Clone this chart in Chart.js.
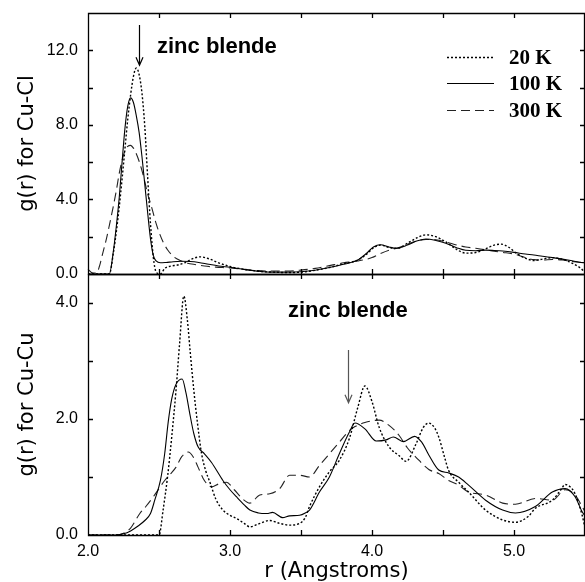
<!DOCTYPE html>
<html><head><meta charset="utf-8">
<script src="https://cdn.jsdelivr.net/npm/chart.js@4.4.0/dist/chart.umd.min.js"></script>
<style>html,body{margin:0;padding:0;background:#fff;overflow:hidden;}canvas{display:block;}</style>
</head><body>
<canvas id="c" width="585" height="586"></canvas>
<script>
// ---- data: [r (Angstrom), g(r)] ----
const cuCl20 = [[2.00,0],[2.15,0],[2.18,1.2],[2.20,2.3],[2.22,3.6],[2.24,5.1],[2.26,6.7],[2.28,8.3],[2.30,9.6],[2.32,10.6],[2.34,11.05],[2.36,10.7],[2.38,9.7],[2.40,7.9],[2.42,5.2],[2.44,2.7],[2.46,0.9],[2.48,0.1],[2.51,0.0],[2.54,0.3],[2.58,0.42],[2.63,0.48],[2.68,0.6],[2.73,0.8],[2.79,0.92],[2.85,0.82],[2.92,0.6],[3.00,0.4],[3.10,0.25],[3.20,0.15],[3.30,0.1],[3.40,0.08],[3.50,0.1],[3.60,0.2],[3.70,0.35],[3.80,0.55],[3.90,0.75],[3.96,1.05],[4.01,1.4],[4.06,1.55],[4.12,1.42],[4.18,1.38],[4.25,1.65],[4.32,1.95],[4.38,2.1],[4.45,2.0],[4.52,1.72],[4.60,1.3],[4.66,1.12],[4.73,1.15],[4.80,1.35],[4.86,1.55],[4.91,1.6],[4.96,1.45],[5.02,1.1],[5.08,0.85],[5.14,0.72],[5.20,0.8],[5.27,0.88],[5.34,0.8],[5.40,0.62],[5.46,0.36],[5.50,0.1]];
const cuCl100 = [[2.00,0],[2.15,0],[2.18,1.3],[2.20,2.6],[2.22,4.1],[2.24,6.0],[2.26,7.8],[2.28,9.0],[2.30,9.45],[2.32,9.2],[2.34,8.5],[2.36,7.6],[2.38,6.3],[2.40,4.8],[2.42,3.3],[2.44,1.9],[2.46,1.0],[2.48,0.7],[2.51,0.6],[2.55,0.62],[2.60,0.66],[2.66,0.68],[2.72,0.67],[2.78,0.62],[2.85,0.52],[2.92,0.43],[3.00,0.36],[3.10,0.25],[3.20,0.15],[3.30,0.1],[3.40,0.1],[3.50,0.12],[3.60,0.2],[3.70,0.35],[3.80,0.52],[3.90,0.75],[3.96,1.1],[4.01,1.45],[4.06,1.57],[4.12,1.45],[4.17,1.38],[4.25,1.55],[4.32,1.78],[4.38,1.88],[4.45,1.8],[4.52,1.65],[4.60,1.4],[4.66,1.27],[4.73,1.25],[4.80,1.28],[4.86,1.26],[4.92,1.23],[5.00,1.16],[5.08,1.07],[5.14,1.02],[5.20,0.95],[5.27,0.88],[5.34,0.8],[5.40,0.72],[5.46,0.63],[5.50,0.6]];
const cuCl300 = [[2.00,0.25],[2.03,0.06],[2.06,0.05],[2.08,0.4],[2.10,1.0],[2.13,1.9],[2.15,2.6],[2.18,3.7],[2.20,4.5],[2.22,5.4],[2.24,6.1],[2.26,6.6],[2.28,6.85],[2.30,6.9],[2.32,6.75],[2.34,6.45],[2.36,6.05],[2.38,5.55],[2.40,4.95],[2.42,4.3],[2.44,3.8],[2.46,3.25],[2.48,2.7],[2.50,2.25],[2.53,1.7],[2.56,1.3],[2.60,0.95],[2.65,0.72],[2.70,0.58],[2.76,0.5],[2.82,0.43],[2.90,0.37],[3.00,0.32],[3.10,0.24],[3.20,0.18],[3.30,0.16],[3.40,0.16],[3.50,0.21],[3.60,0.3],[3.70,0.45],[3.80,0.6],[3.90,0.7],[4.00,0.88],[4.06,1.1],[4.12,1.28],[4.18,1.4],[4.25,1.6],[4.32,1.78],[4.38,1.85],[4.45,1.84],[4.52,1.72],[4.60,1.55],[4.66,1.45],[4.73,1.38],[4.80,1.3],[4.86,1.22],[4.92,1.16],[5.00,1.07],[5.08,0.88],[5.14,0.77],[5.20,0.75],[5.27,0.78],[5.34,0.75],[5.40,0.68],[5.46,0.63],[5.50,0.62]];

const cuCu20 = [[2.00,0],[2.50,0],[2.53,0.45],[2.56,1.0],[2.59,1.7],[2.62,2.5],[2.645,3.3],[2.675,4.12],[2.70,3.7],[2.72,3.15],[2.745,2.5],[2.77,1.95],[2.80,1.4],[2.83,1.1],[2.86,0.9],[2.90,0.62],[2.95,0.43],[3.00,0.34],[3.05,0.28],[3.10,0.2],[3.14,0.14],[3.20,0.19],[3.28,0.25],[3.35,0.2],[3.42,0.17],[3.49,0.2],[3.53,0.3],[3.56,0.49],[3.63,0.83],[3.70,1.09],[3.77,1.29],[3.84,1.66],[3.90,2.2],[3.95,2.57],[4.00,2.3],[4.05,1.86],[4.12,1.52],[4.19,1.37],[4.24,1.27],[4.31,1.57],[4.36,1.85],[4.40,1.93],[4.44,1.85],[4.47,1.69],[4.51,1.35],[4.54,1.11],[4.61,0.91],[4.68,0.74],[4.80,0.43],[4.92,0.26],[5.01,0.22],[5.10,0.32],[5.15,0.46],[5.27,0.6],[5.33,0.78],[5.36,0.87],[5.40,0.82],[5.43,0.71],[5.48,0.34],[5.50,0.12]];
const cuCu100 = [[2.00,0],[2.20,0],[2.25,0.02],[2.30,0.07],[2.35,0.15],[2.40,0.25],[2.44,0.37],[2.47,0.6],[2.51,0.94],[2.54,1.4],[2.565,1.95],[2.59,2.35],[2.62,2.6],[2.663,2.69],[2.69,2.45],[2.717,2.09],[2.745,1.75],[2.775,1.52],[2.82,1.4],[2.87,1.25],[2.95,0.94],[3.00,0.78],[3.045,0.66],[3.10,0.52],[3.14,0.43],[3.20,0.38],[3.26,0.37],[3.30,0.39],[3.37,0.3],[3.42,0.33],[3.49,0.34],[3.53,0.38],[3.56,0.43],[3.63,0.74],[3.70,1.0],[3.77,1.4],[3.84,1.77],[3.88,1.93],[3.95,1.83],[4.03,1.62],[4.10,1.64],[4.15,1.69],[4.22,1.61],[4.30,1.7],[4.35,1.6],[4.40,1.38],[4.47,1.12],[4.54,1.07],[4.61,1.0],[4.68,0.86],[4.80,0.6],[4.92,0.43],[5.01,0.38],[5.15,0.49],[5.27,0.74],[5.36,0.8],[5.43,0.66],[5.48,0.4],[5.50,0.33]];
const cuCu300 = [[2.00,0],[2.20,0],[2.25,0.03],[2.30,0.12],[2.365,0.37],[2.41,0.5],[2.46,0.66],[2.50,0.8],[2.54,0.94],[2.58,1.05],[2.62,1.17],[2.66,1.35],[2.705,1.43],[2.74,1.35],[2.775,1.17],[2.81,0.98],[2.846,0.86],[2.87,0.83],[2.92,0.88],[2.974,0.91],[3.03,0.78],[3.09,0.62],[3.14,0.55],[3.21,0.69],[3.28,0.71],[3.35,0.8],[3.42,1.03],[3.49,1.03],[3.56,1.0],[3.63,1.2],[3.70,1.4],[3.77,1.6],[3.84,1.8],[3.88,1.87],[3.95,1.94],[4.05,1.98],[4.12,1.89],[4.19,1.72],[4.25,1.5],[4.31,1.34],[4.40,1.13],[4.47,1.06],[4.54,0.94],[4.61,0.86],[4.68,0.74],[4.80,0.69],[4.92,0.55],[5.01,0.53],[5.15,0.63],[5.27,0.6],[5.36,0.78],[5.43,0.69],[5.48,0.49],[5.50,0.4]];

const seriesLabels = ['20 K', '100 K', '300 K'];
const xTickValues = [2.0, 2.5, 3.0, 3.5, 4.0, 4.5, 5.0, 5.5];
const xTickLabels = ['2.0', '3.0', '4.0', '5.0'];
const topTickValues = [0, 2, 4, 6, 8, 10, 12, 14];
const topTickLabels = ['0.0', '4.0', '8.0', '12.0'];
const botTickValues = [0, 1, 2, 3, 4, 4.5];
const botTickLabels = ['0.0', '2.0', '4.0'];
const panelTitles = ['g(r) for Cu-Cl', 'g(r) for Cu-Cu'];
const annotText = 'zinc blende';

// ---- styles ----
const styles = [
  {borderColor:'#000', borderWidth:1.4, borderDash:[2,2]},
  {borderColor:'#000', borderWidth:1.1, borderDash:[]},
  {borderColor:'#222', borderWidth:1.1, borderDash:[9,5]}
];
const toXY = a => a.map(p => ({x:p[0], y:p[1]}));
function ds(label, data, axis, st){
  return Object.assign({label, data:toXY(data), yAxisID:axis, pointRadius:0, fill:false,
    cubicInterpolationMode:'monotone', clip:false}, st);
}
const datasets = [
  ds(seriesLabels[0], cuCl20, 'yTop', styles[0]),
  ds(seriesLabels[1], cuCl100, 'yTop', styles[1]),
  ds(seriesLabels[2], cuCl300, 'yTop', styles[2]),
  ds(seriesLabels[0], cuCu20, 'yBot', styles[0]),
  ds(seriesLabels[1], cuCu100, 'yBot', styles[1]),
  ds(seriesLabels[2], cuCu300, 'yBot', styles[2])
];

const tickFont = {family:'Liberation Sans', size:16};
const titleFont = {family:'DejaVu Sans', size:21};
const fmt = v => v.toFixed(1);
const zeroPad = s => { s.paddingTop = 0; s.paddingBottom = 0; s.paddingLeft = 0; s.paddingRight = 0; };
const setTicks = vals => s => { s.ticks = vals.map(v => ({value:v})); };

const framePlugin = {
  id:'frame',
  afterDraw(chart){
    const {ctx, scales:{x, yTop, yBot}} = chart;
    const L = x.left, R = x.right;
    ctx.save();
    ctx.strokeStyle = '#000';
    ctx.lineWidth = 1.3;
    const tl = 5;
    [[yTop, topTickValues], [yBot, botTickValues]].forEach(([ys, vals]) => {
      const T = ys.top, B = ys.bottom;
      ctx.beginPath();
      ctx.rect(L + 0.5, T + 0.5, R - L - 1, B - T);
      xTickValues.slice(1, -1).forEach(r => {
        const px = Math.round(x.getPixelForValue(r)) + 0.5;
        ctx.moveTo(px, T); ctx.lineTo(px, T + tl);
        ctx.moveTo(px, B); ctx.lineTo(px, B - tl);
      });
      vals.filter(v => v > 0 && Math.abs(v - Math.round(v)) < 1e-6 && v < ys.max).forEach(v => {
        const py = Math.round(ys.getPixelForValue(v)) + 0.5;
        ctx.moveTo(L, py); ctx.lineTo(L + tl, py);
        ctx.moveTo(R, py); ctx.lineTo(R - tl, py);
      });
      ctx.stroke();
    });
    // arrows
    const arrow = (r, v1, v2, ys, color) => {
      const ax = Math.round(x.getPixelForValue(r)) + 0.5;
      const y1 = ys.getPixelForValue(v1), y2 = ys.getPixelForValue(v2);
      ctx.strokeStyle = color; ctx.lineWidth = 1.2;
      ctx.beginPath();
      ctx.moveTo(ax, y1); ctx.lineTo(ax, y2);
      ctx.moveTo(ax - 3.5, y2 - 8); ctx.lineTo(ax, y2); ctx.lineTo(ax + 3.5, y2 - 8);
      ctx.stroke();
    };
    arrow(2.358, 13.35, 11.2, yTop, '#000');
    arrow(3.834, 3.19, 2.28, yBot, '#555');
    // annotation text
    ctx.fillStyle = '#000';
    ctx.font = 'bold 22px "Liberation Sans"';
    ctx.textAlign = 'left'; ctx.textBaseline = 'alphabetic';
    ctx.fillText(annotText, 157, 53);
    ctx.fillText(annotText, 288, 317);
    // legend
    const lyLine = [57, 83, 110], lyText = [63.5, 90, 117];
    ctx.font = 'bold 21px "Liberation Serif"';
    for (let i = 0; i < 3; i++) {
      const st = styles[i];
      ctx.strokeStyle = st.borderColor; ctx.lineWidth = st.borderWidth;
      ctx.setLineDash(st.borderDash);
      ctx.beginPath(); ctx.moveTo(447, lyLine[i] + 0.5); ctx.lineTo(494, lyLine[i] + 0.5); ctx.stroke();
      ctx.setLineDash([]);
      ctx.fillText(seriesLabels[i], 509, lyText[i]);
    }
    ctx.restore();
  }
};

new Chart(document.getElementById('c'), {
  type:'line',
  data:{datasets},
  options:{
    responsive:false, animation:false, devicePixelRatio:1,
    layout:{padding:{top:13, left:0, right:0, bottom:0}},
    plugins:{legend:{display:false}, tooltip:{enabled:false}},
    scales:{
      x:{type:'linear', min:2, max:5.5,
        grid:{display:false, drawTicks:false}, border:{display:false},
        afterBuildTicks:setTicks(xTickValues),
        ticks:{autoSkip:false, maxRotation:0, minRotation:0, padding:7, color:'#000', font:tickFont,
          callback:v => xTickLabels.includes(fmt(v)) ? fmt(v) : ''},
        title:{display:true, text:'r (Angstroms)', color:'#000', font:titleFont, padding:{top:0, bottom:2}},
        afterFit:s => { s.height = 51; zeroPad(s); }
      },
      yBot:{type:'linear', position:'left', stack:'panels', stackWeight:1, weight:1, min:0, max:4.5,
        grid:{display:false, drawTicks:false}, border:{display:false},
        afterBuildTicks:setTicks(botTickValues),
        ticks:{autoSkip:false, padding:10, color:'#000', font:tickFont,
          callback:v => botTickLabels.includes(fmt(v)) ? fmt(v) : ''},
        title:{display:true, text:panelTitles[1], color:'#000', font:titleFont, padding:{top:15, bottom:0}},
        afterFit:s => { s.width = 88; zeroPad(s); }
      },
      yTop:{type:'linear', position:'left', stack:'panels', stackWeight:1, weight:2, min:0, max:14,
        grid:{display:false, drawTicks:false}, border:{display:false},
        afterBuildTicks:setTicks(topTickValues),
        ticks:{autoSkip:false, padding:10, color:'#000', font:tickFont,
          callback:v => topTickLabels.includes(fmt(v)) ? fmt(v) : ''},
        title:{display:true, text:panelTitles[0], color:'#000', font:titleFont, padding:{top:15, bottom:0}},
        afterFit:s => { s.width = 88; zeroPad(s); }
      }
    }
  },
  plugins:[framePlugin]
});
</script>
</body></html>
